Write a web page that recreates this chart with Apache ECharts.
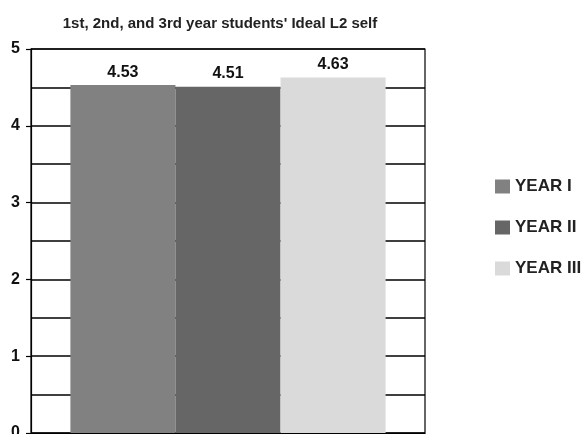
<!DOCTYPE html>
<html>
<head>
<meta charset="utf-8">
<script src="https://cdn.jsdelivr.net/npm/echarts@6/dist/echarts.min.js"></script>
<style>
  html, body { margin: 0; padding: 0; background: #fff; }
  #chart { width: 588px; height: 434px; }
</style>
</head>
<body>
<div id="chart"></div>
<script>
// data
const titleText = "1st, 2nd, and 3rd year students' Ideal L2 self";
const categories = [''];
const seriesNames = ['YEAR I', 'YEAR II', 'YEAR III'];
const seriesValues = [[4.53], [4.51], [4.63]];
const seriesColors = ['#818181', '#666666', '#dadada'];

const chart = echarts.init(document.getElementById('chart'));

const series = seriesNames.map((name, i) => ({
  name: name,
  type: 'bar',
  data: seriesValues[i],
  barGap: '0%',
  barCategoryGap: '20%',
  itemStyle: { color: seriesColors[i] },
  label: {
    show: true,
    position: 'top',
    distance: 5,
    formatter: p => p.value.toFixed(2),
    color: '#111',
    fontFamily: 'Liberation Sans',
    fontWeight: 'bold',
    fontSize: 16
  }
}));

chart.setOption({
  backgroundColor: '#fff',
  animation: false,
  title: {
    text: titleText,
    left: 220,
    top: 16,
    padding: 0,
    textAlign: 'center',
    textStyle: {
      fontFamily: 'Liberation Sans',
      fontWeight: 'bold',
      fontSize: 15,
      color: '#222'
    }
  },
  legend: {
    orient: 'vertical',
    left: 495,
    top: 178,
    padding: 0,
    itemWidth: 15,
    itemHeight: 14,
    itemGap: 24,
    icon: 'rect',
    textStyle: {
      fontFamily: 'Liberation Sans',
      fontWeight: 'bold',
      fontSize: 17,
      lineHeight: 14,
      color: '#222'
    }
  },
  grid: {
    left: 31,
    right: 163,
    top: 49,
    bottom: 1,
    outerBoundsMode: 'none',
    show: true,
    borderColor: '#000',
    borderWidth: 1.2
  },
  xAxis: {
    type: 'category',
    data: categories,
    axisLine: { show: true, lineStyle: { color: '#000', width: 1.2 } },
    axisTick: { show: false },
    axisLabel: { show: false }
  },
  yAxis: {
    type: 'value',
    min: 0,
    max: 5,
    interval: 1,
    axisLine: { show: true, lineStyle: { color: '#000', width: 1.2 } },
    axisTick: { show: true, length: 5, lineStyle: { color: '#000', width: 1.2 } },
    axisLabel: {
      margin: 11,
      color: '#111',
      fontFamily: 'Liberation Sans',
      fontWeight: 'bold',
      fontSize: 16
    },
    splitLine: { show: true, lineStyle: { color: '#000', width: 1.5 } },
    minorTick: { show: false, splitNumber: 2 },
    minorSplitLine: { show: true, lineStyle: { color: '#000', width: 1.5 } }
  },
  series: series
});
</script>
</body>
</html>
